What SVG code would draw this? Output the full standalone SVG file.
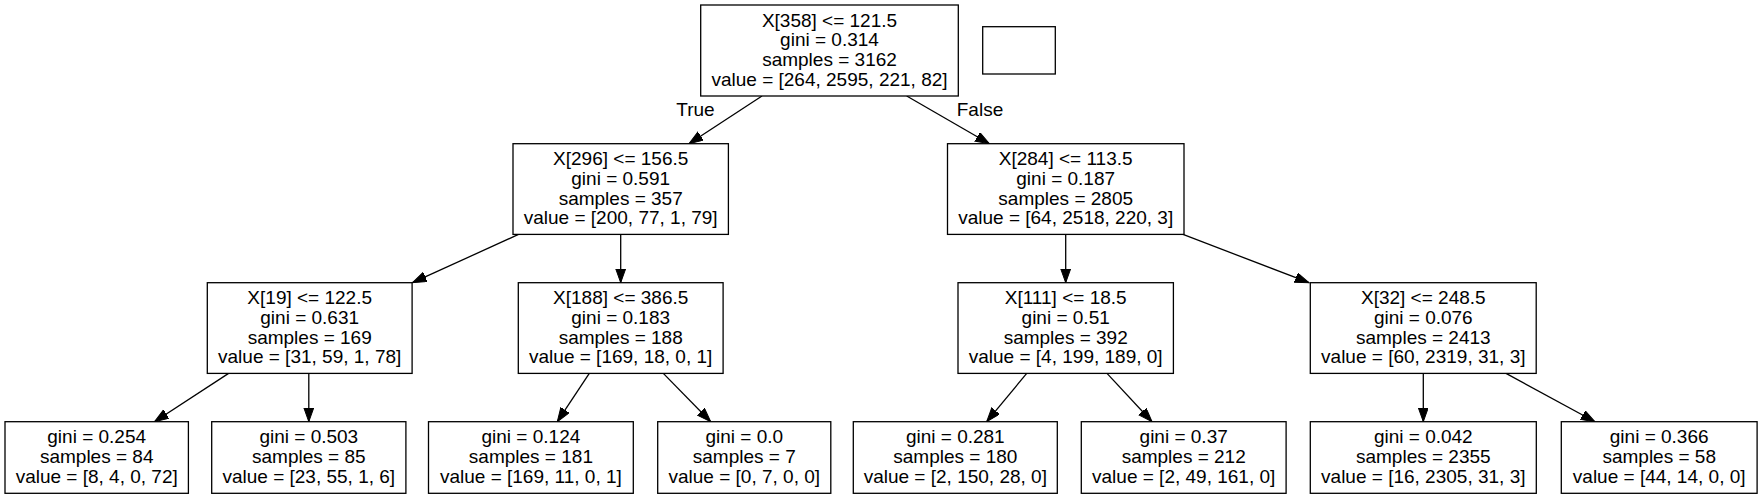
<svg xmlns="http://www.w3.org/2000/svg" width="1760" height="497" viewBox="0 0 1760 497">
<defs>
<style>
.box{fill:#fff;stroke:#000;stroke-width:1.3}
text{font-family:"Liberation Sans",Arial,Helvetica,sans-serif;font-size:19px;fill:#000;text-anchor:middle}
.edge{stroke:#000;stroke-width:1.3;fill:none;marker-end:url(#arr)}
</style>
<marker id="arr" markerUnits="userSpaceOnUse" markerWidth="15" markerHeight="11" refX="14" refY="5" orient="auto" viewBox="0 0 15 11">
<path d="M0,0 L14,5 L0,10 Z" fill="#000" stroke="#000" stroke-width="1"/>
</marker>
</defs>
<rect width="1760" height="497" fill="#fff"/>
<g id="connectors">
<line class="edge" x1="762" y1="96" x2="689" y2="143.7"/>
<line class="edge" x1="906.7" y1="96" x2="989.4" y2="143.7"/>
<line class="edge" x1="518.5" y1="234.4" x2="412.5" y2="282.7"/>
<line class="edge" x1="620.7" y1="234.4" x2="620.7" y2="282.7"/>
<line class="edge" x1="1065.7" y1="234.4" x2="1065.7" y2="282.7"/>
<line class="edge" x1="1183" y1="234.4" x2="1309" y2="282.7"/>
<line class="edge" x1="228.6" y1="373.4" x2="154.5" y2="421.7"/>
<line class="edge" x1="308.8" y1="373.4" x2="308.8" y2="421.7"/>
<line class="edge" x1="589.3" y1="373.4" x2="557.3" y2="421.7"/>
<line class="edge" x1="663.3" y1="373.4" x2="710.7" y2="421.7"/>
<line class="edge" x1="1026.7" y1="373.4" x2="986.7" y2="421.7"/>
<line class="edge" x1="1107" y1="373.4" x2="1152" y2="421.7"/>
<line class="edge" x1="1423.3" y1="373.4" x2="1423.3" y2="421.7"/>
<line class="edge" x1="1506" y1="373.4" x2="1595" y2="421.7"/>
<text x="695.5" y="116">True</text>
<text x="980" y="116">False</text>
</g>
<g id="node0">
<rect class="box" x="700.7" y="5" width="257.6" height="91"/>
<text x="829.5" y="26.7">X[358] &lt;= 121.5</text>
<text x="829.5" y="46.3">gini = 0.314</text>
<text x="829.5" y="65.9">samples = 3162</text>
<text x="829.5" y="85.5">value = [264, 2595, 221, 82]</text>
</g>
<g id="legend">
<rect class="box" x="982.7" y="26.7" width="72.6" height="47.3"/>
</g>
<g id="node1">
<rect class="box" x="513" y="143.7" width="215.4" height="90.7"/>
<text x="620.7" y="165.4">X[296] &lt;= 156.5</text>
<text x="620.7" y="185">gini = 0.591</text>
<text x="620.7" y="204.6">samples = 357</text>
<text x="620.7" y="224.2">value = [200, 77, 1, 79]</text>
</g>
<g id="node2">
<rect class="box" x="947.5" y="143.7" width="236.5" height="90.7"/>
<text x="1065.7" y="165.4">X[284] &lt;= 113.5</text>
<text x="1065.7" y="185">gini = 0.187</text>
<text x="1065.7" y="204.6">samples = 2805</text>
<text x="1065.7" y="224.2">value = [64, 2518, 220, 3]</text>
</g>
<g id="node3">
<rect class="box" x="207.3" y="282.7" width="204.8" height="90.7"/>
<text x="309.7" y="304.4">X[19] &lt;= 122.5</text>
<text x="309.7" y="324">gini = 0.631</text>
<text x="309.7" y="343.6">samples = 169</text>
<text x="309.7" y="363.2">value = [31, 59, 1, 78]</text>
</g>
<g id="node4">
<rect class="box" x="518.3" y="282.7" width="204.8" height="90.7"/>
<text x="620.7" y="304.4">X[188] &lt;= 386.5</text>
<text x="620.7" y="324">gini = 0.183</text>
<text x="620.7" y="343.6">samples = 188</text>
<text x="620.7" y="363.2">value = [169, 18, 0, 1]</text>
</g>
<g id="node5">
<rect class="box" x="958" y="282.7" width="215.4" height="90.7"/>
<text x="1065.7" y="304.4">X[111] &lt;= 18.5</text>
<text x="1065.7" y="324">gini = 0.51</text>
<text x="1065.7" y="343.6">samples = 392</text>
<text x="1065.7" y="363.2">value = [4, 199, 189, 0]</text>
</g>
<g id="node6">
<rect class="box" x="1310.3" y="282.7" width="225.9" height="90.7"/>
<text x="1423.3" y="304.4">X[32] &lt;= 248.5</text>
<text x="1423.3" y="324">gini = 0.076</text>
<text x="1423.3" y="343.6">samples = 2413</text>
<text x="1423.3" y="363.2">value = [60, 2319, 31, 3]</text>
</g>
<g id="leaf1">
<rect class="box" x="5" y="421.7" width="183.4" height="71.6"/>
<text x="96.7" y="443.4">gini = 0.254</text>
<text x="96.7" y="463">samples = 84</text>
<text x="96.7" y="482.6">value = [8, 4, 0, 72]</text>
</g>
<g id="leaf2">
<rect class="box" x="211.7" y="421.7" width="194.2" height="71.6"/>
<text x="308.8" y="443.4">gini = 0.503</text>
<text x="308.8" y="463">samples = 85</text>
<text x="308.8" y="482.6">value = [23, 55, 1, 6]</text>
</g>
<g id="leaf3">
<rect class="box" x="428.5" y="421.7" width="204.8" height="71.6"/>
<text x="530.9" y="443.4">gini = 0.124</text>
<text x="530.9" y="463">samples = 181</text>
<text x="530.9" y="482.6">value = [169, 11, 0, 1]</text>
</g>
<g id="leaf4">
<rect class="box" x="657.7" y="421.7" width="173.1" height="71.6"/>
<text x="744.3" y="443.4">gini = 0.0</text>
<text x="744.3" y="463">samples = 7</text>
<text x="744.3" y="482.6">value = [0, 7, 0, 0]</text>
</g>
<g id="leaf5">
<rect class="box" x="853.3" y="421.7" width="204" height="71.6"/>
<text x="955.3" y="443.4">gini = 0.281</text>
<text x="955.3" y="463">samples = 180</text>
<text x="955.3" y="482.6">value = [2, 150, 28, 0]</text>
</g>
<g id="leaf6">
<rect class="box" x="1081.3" y="421.7" width="204.8" height="71.6"/>
<text x="1183.7" y="443.4">gini = 0.37</text>
<text x="1183.7" y="463">samples = 212</text>
<text x="1183.7" y="482.6">value = [2, 49, 161, 0]</text>
</g>
<g id="leaf7">
<rect class="box" x="1310.3" y="421.7" width="226" height="71.6"/>
<text x="1423.3" y="443.4">gini = 0.042</text>
<text x="1423.3" y="463">samples = 2355</text>
<text x="1423.3" y="482.6">value = [16, 2305, 31, 3]</text>
</g>
<g id="leaf8">
<rect class="box" x="1561.3" y="421.7" width="195.8" height="71.6"/>
<text x="1659.2" y="443.4">gini = 0.366</text>
<text x="1659.2" y="463">samples = 58</text>
<text x="1659.2" y="482.6">value = [44, 14, 0, 0]</text>
</g>
</svg>
